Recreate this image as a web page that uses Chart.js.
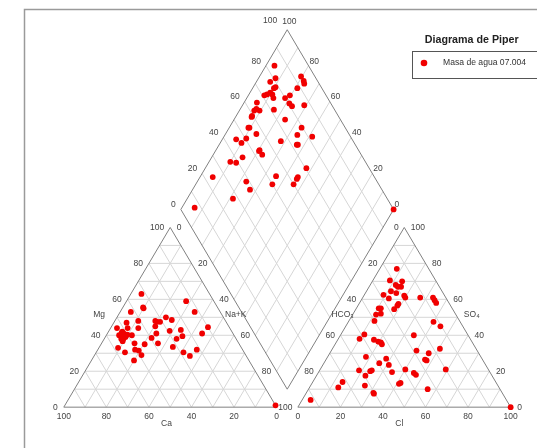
<!DOCTYPE html>
<html><head><meta charset="utf-8">
<script src="https://cdn.jsdelivr.net/npm/chart.js@4.4.1/dist/chart.umd.min.js"></script>
<style>html,body{margin:0;padding:0;background:#fff}#wrap{width:537px;height:448px;position:relative}</style>
</head><body><div id="wrap"><canvas id="c"></canvas></div>
<script>
const chartTitle = 'Diagrama de Piper';
const seriesName = 'Masa de agua 07.004';
const tickValues = [0, 20, 40, 60, 80, 100];
const cationNames = ['Ca', 'Mg', 'Na+K'];
const anionNames = ['Cl', 'SO₄', 'HCO₃'];

// Cation triangle: Ca %, Mg % (Na+K = 100 - Ca - Mg)
const cationCa = [32,13,42,35,35,12,27,47,41,33,32.5,31,25,53,48,43,34.5,10,23.5,29,51.5,52,51,53,54,51.5,53,54,48,36,14.5,24.5,39.5,28,58,49,44.5,38,32,50.5,49,56,49,28.5,26.5,21.5,54,54,50,51.5,0];
const cationMg = [63,59,53,55.5,55,53,50,47,48,48,47.5,47.5,48.5,44,44,44,45,44.5,43,42.5,41,41.5,40.5,39.5,40,39,38,38,40,41,41,39.5,38.5,38,33,35.5,35,35.5,33.5,32,31.5,30.5,29,30.5,28.5,32,26,36.7,40.3,42,1];

// Anion triangle: Cl %, SO4 % (HCO3 = 100 - Cl - SO4)
const anionCl = [8,8,14,12,13.5,15,11.5,14.5,9,12.5,19,20,27,33,34.5,36,18.5,18.5,18,10.5,11.5,11,13,12,40,44.5,11,34.5,10,17,19.5,21,22,50.5,40,46.5,46.5,47.5,18,28,26,31,59,18.5,24,24.5,40,34.5,45,46.5,23,14,13.5,25.5,41.5,41,56,31.5,32,4,100];
const anionSO4 = [77,70.5,70,68,67,67,64.5,63.5,62.5,60.5,62,61,61,61,59.5,58,57.5,56.5,54.5,55,55,51.5,52,48,47.5,45,40.5,40,38,37.5,36.5,36,35,32.5,31.5,30,26.5,26,28,27,24.5,23.5,21,20.5,20,20.5,21,19.5,19,18,17.5,14,11,12,13.5,13,10,8,7.5,4,0];

// Diamond: Na+K %, SO4+Cl %
const diamondNaK = [4,8,6.5,10.5,10,19.5,22,23,21,9.5,8.5,7.5,11,12.5,18,19.5,21.5,23.5,29,6,7.5,9.5,7,7.5,7.5,16,24,9.5,9,14.5,6.5,11,10,28,34,41.5,34,36.5,37,20.5,20.5,23,10,13,14.5,47.5,6,23,35.5,46,46,36,46,27,21.5,6,100];
const diamondSO4Cl = [84,81,77.5,78.5,77.5,93.5,93.5,93,88.5,74.5,72.5,71,75,74.5,80,83,80.5,81,87,65.5,63.5,64.5,62,59.5,59,71.5,74,55,54.5,56.5,45.5,50.5,47,66,79.5,82,75.5,72.5,73,53.5,53,53.5,36.5,39,43.5,70.5,24,38.5,54,64,63,50,60,38,27.5,7,100];

// ---- Piper geometry (triangle side = 100 units) ----
const H = Math.sqrt(3) / 2;
const GAP = 10;
const AOFF = 100 + GAP;
function cat(Ca, Mg) { const n = 100 - Ca - Mg; return { x: n + 0.5 * Mg, y: H * Mg }; }
function an(Cl, SO4) { return { x: AOFF + Cl + 0.5 * SO4, y: H * SO4 }; }
function dia(NaK, SC) { const a = 100 - NaK, b = SC; return { x: 100 + GAP / 2 + 0.5 * (b - a), y: GAP * H + H * (a + b) }; }

const GAPPT = { x: null, y: null };
const grid = [];
function seg(arr, p, q) { arr.push(p, q, GAPPT); }
for (let k = 10; k < 100; k += 10) {
  seg(grid, cat(100 - k, k), cat(0, k));
  seg(grid, cat(100 - k, 0), cat(0, 100 - k));
  seg(grid, cat(k, 0), cat(k, 100 - k));
  seg(grid, an(0, k), an(100 - k, k));
  seg(grid, an(k, 0), an(k, 100 - k));
  seg(grid, an(100 - k, 0), an(0, 100 - k));
  seg(grid, dia(100 - k, 0), dia(100 - k, 100));
  seg(grid, dia(0, k), dia(100, k));
}
const outline = [
  cat(100, 0), cat(0, 0), cat(0, 100), cat(100, 0), GAPPT,
  an(0, 0), an(100, 0), an(0, 100), an(0, 0), GAPPT,
  dia(100, 0), dia(0, 0), dia(0, 100), dia(100, 100), dia(100, 0)
];
const cationPts = cationCa.map((c, i) => cat(c, cationMg[i]));
const anionPts = anionCl.map((c, i) => an(c, anionSO4[i]));
const diamondPts = diamondNaK.map((n, i) => dia(n, diamondSO4Cl[i]));

const RED = '#f00000';
const FONT = '"Liberation Sans", Arial, sans-serif';

const labelsPlugin = {
  id: 'piperLabels',
  afterDraw(chart) {
    const ctx = chart.ctx, sx = chart.scales.x, sy = chart.scales.y;
    const P = p => ({ X: sx.getPixelForValue(p.x), Y: sy.getPixelForValue(p.y) });
    ctx.save();
    // frame
    ctx.strokeStyle = '#9a9a9a'; ctx.lineWidth = 1.5;
    ctx.beginPath(); ctx.moveTo(24.5, 448); ctx.lineTo(24.5, 9.5); ctx.lineTo(537, 9.5); ctx.stroke();

    ctx.fillStyle = '#444';
    ctx.textBaseline = 'middle';
    function lab(p, dx, dy, align, s, font) {
      const q = P(p);
      ctx.font = font || ('8.5px ' + FONT);
      ctx.textAlign = align;
      ctx.fillText(String(s), q.X + dx, q.Y + dy);
    }
    tickValues.forEach(k => {
      lab(cat(100 - k, k), -6, 0.5, 'right', k);          // Mg
      if (k < 100) lab(cat(0, 100 - k), 6.5, 0, 'left', k); // Na+K
      lab(cat(k, 0), 0, 9.5, 'center', k);                 // Ca
      lab(an(0, 100 - k), -5.5, 0.5, 'right', k);          // HCO3
      lab(an(100 - k, k), 6.5, 0, 'left', k);              // SO4
      lab(an(k, 0), 0, 9.5, 'center', k);                  // Cl
      // diamond upper-left edge (SO4+Cl)
      if (k < 100) lab(dia(0, k), -5, -4.5, 'right', k); else lab(dia(0, k), -10, -9, 'right', k);
      // diamond upper-right edge (Ca+Mg)
      if (k < 100) lab(dia(100 - k, 100), 1, -4.5, 'left', k); else lab(dia(0, 100), -5, -8.5, 'left', k);
    });
    // axis names
    lab(cat(50, 50), -12, -3, 'right', cationNames[1]);
    lab(cat(0, 50), 1.6, -3, 'left', cationNames[2]);
    lab(cat(50, 0), -3.7, 16, 'center', cationNames[0]);
    lab(an(0, 50), 2.7, -3, 'right', anionNames[2]);
    lab(an(50, 50), 6.4, -3, 'left', anionNames[1]);
    lab(an(50, 0), -5, 16, 'center', anionNames[0]);

    // legend
    ctx.fillStyle = '#222';
    ctx.font = 'bold 10.7px ' + FONT;
    ctx.textAlign = 'center';
    ctx.fillText(chartTitle, 471.7, 40);
    ctx.strokeStyle = '#555'; ctx.lineWidth = 1;
    ctx.strokeRect(412.5, 51.5, 130, 27);
    ctx.fillStyle = RED;
    ctx.beginPath(); ctx.arc(424, 63, 3.3, 0, Math.PI * 2); ctx.fill();
    ctx.fillStyle = '#333';
    ctx.font = '8.6px ' + FONT;
    ctx.textAlign = 'left';
    ctx.fillText(seriesName, 443, 63);
    ctx.restore();
  }
};

const pointStyle = { showLine: false, pointRadius: 2.9, pointBackgroundColor: RED, pointBorderColor: RED, pointBorderWidth: 0, order: 0 };
new Chart(document.getElementById('c'), {
  type: 'scatter',
  data: {
    datasets: [
      Object.assign({ label: seriesName, data: cationPts }, pointStyle),
      Object.assign({ label: seriesName + ' (aniones)', data: anionPts }, pointStyle),
      Object.assign({ label: seriesName + ' (rombo)', data: diamondPts }, pointStyle),
      { label: 'contorno', data: outline, showLine: true, spanGaps: false, pointRadius: 0, borderColor: '#808080', borderWidth: 1, order: 1 },
      { label: 'rejilla', data: grid, showLine: true, spanGaps: false, pointRadius: 0, borderColor: '#d6d6d6', borderWidth: 1, order: 2 }
    ]
  },
  options: {
    responsive: true, maintainAspectRatio: false, animation: false, devicePixelRatio: 1,
    layout: { padding: 0 },
    events: [],
    plugins: { legend: { display: false }, tooltip: { enabled: false }, title: { display: false } },
    scales: {
      x: { type: 'linear', display: false, min: -28.1, max: 220.5 },
      y: { type: 'linear', display: false, min: -17.75, max: 194.27 }
    }
  },
  plugins: [labelsPlugin]
});
</script>
</body></html>
